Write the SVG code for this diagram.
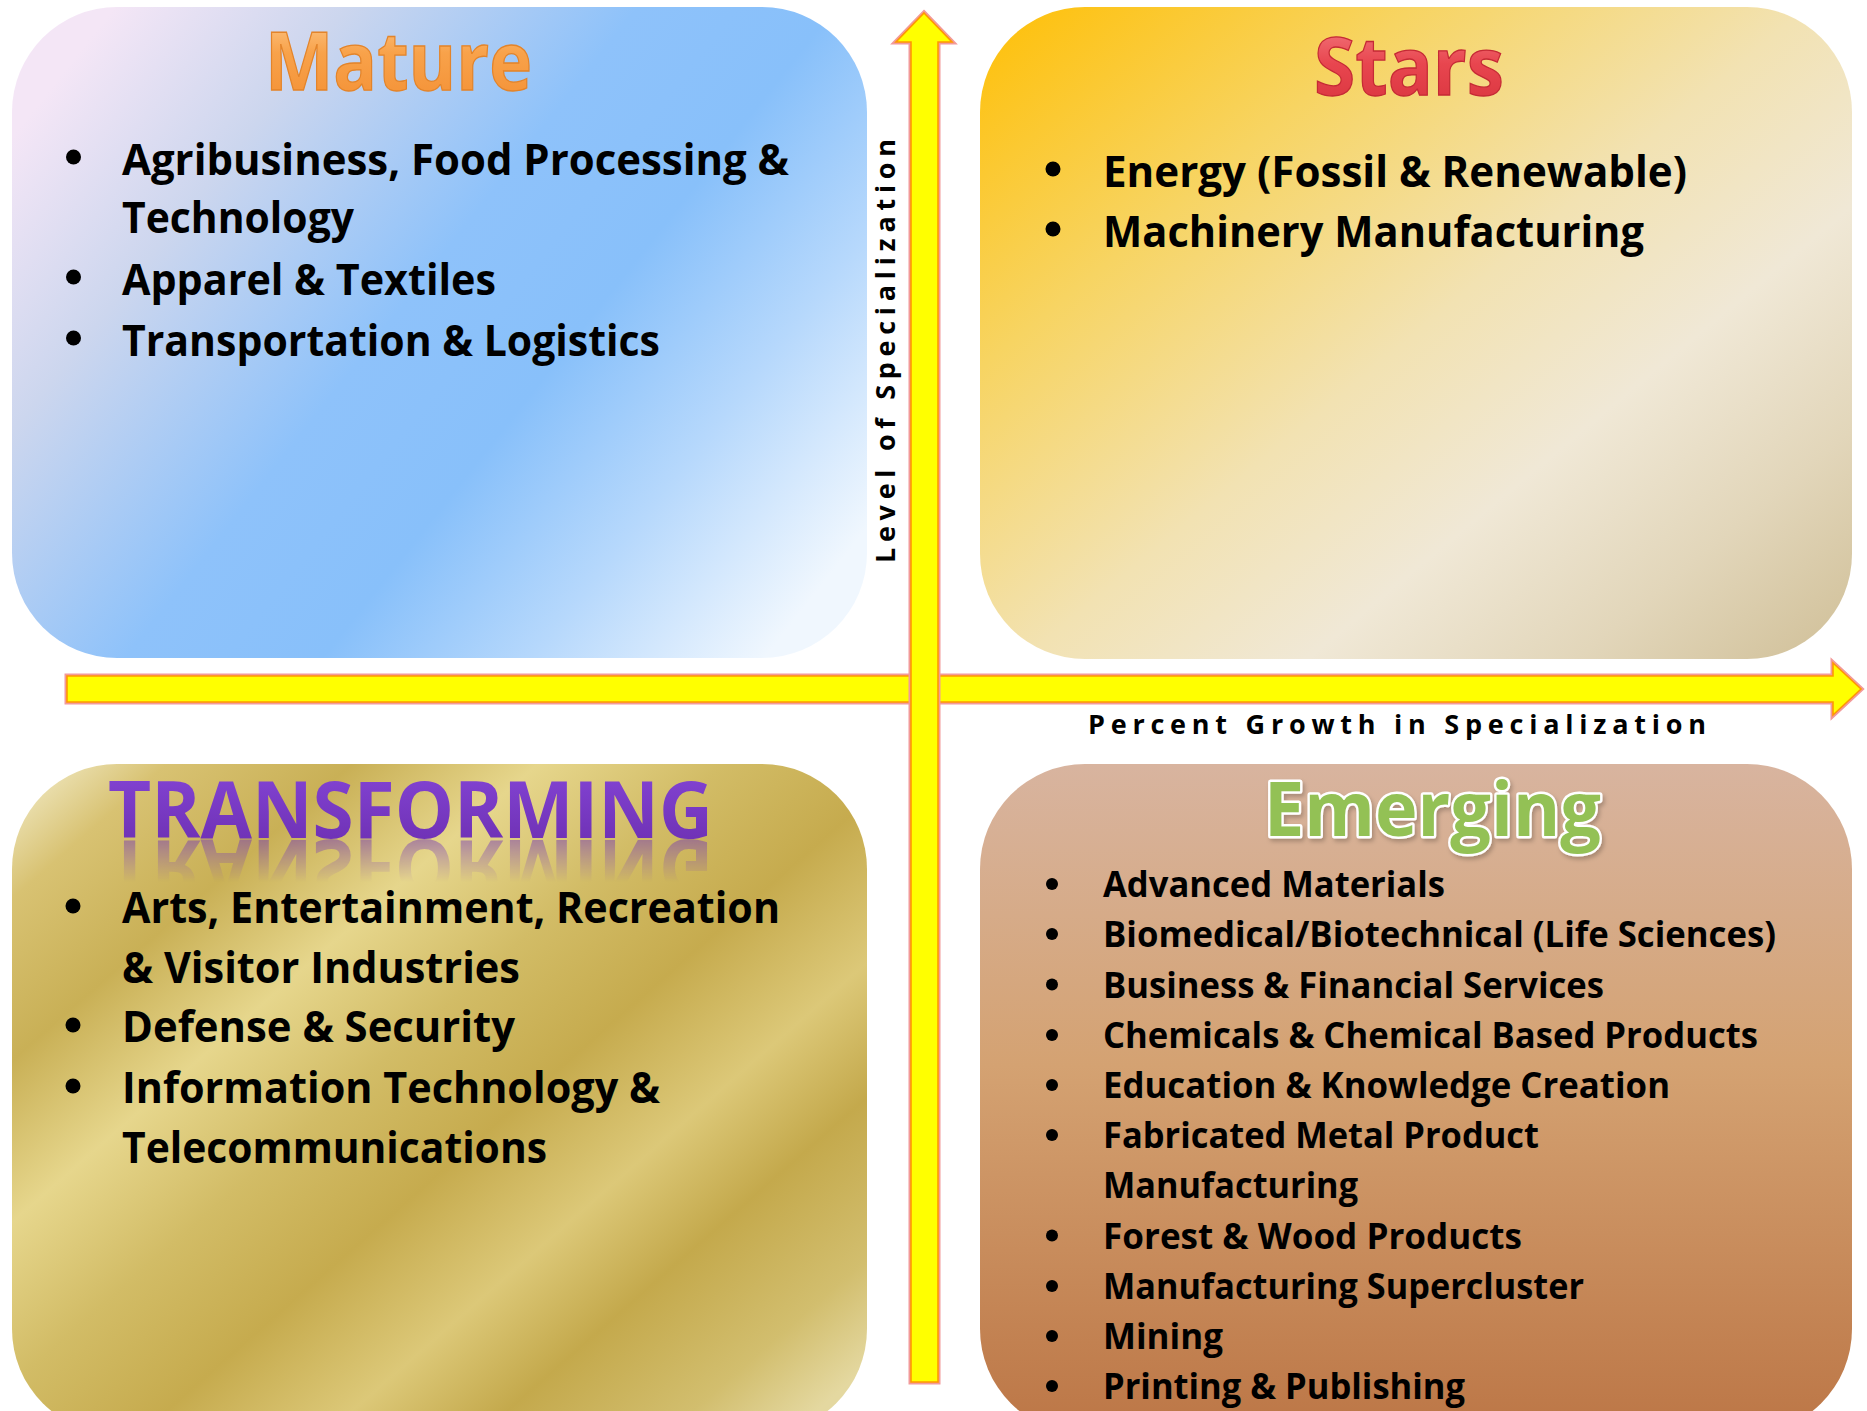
<svg xmlns="http://www.w3.org/2000/svg" xmlns:xlink="http://www.w3.org/1999/xlink" width="1867" height="1411" viewBox="0 0 1867 1411">
  <defs>
    <style>
      .txt { font-family: "Open Sans", "Liberation Sans", sans-serif; font-weight: 700; fill: #000; }
      .b { font-size: 43px; }
      .be { font-size: 35px; }
      .head { font-family: "Open Sans", "Liberation Sans", sans-serif; font-weight: 700; }
      .axis { font-family: "Open Sans", "Liberation Sans", sans-serif; font-weight: 700; font-size: 27px; fill: #000; }
      .arrow-outer { fill: none; stroke: #F29A9A; stroke-width: 5; stroke-linejoin: miter; }
      .arrow-inner { fill: #FFFF00; stroke: #FF9900; stroke-width: 1.6; stroke-linejoin: miter; }
    </style>
    <linearGradient id="gMature" x1="0" y1="0.2" x2="1" y2="0.8">
      <stop offset="0" stop-color="#F4E6F6"/>
      <stop offset="0.2" stop-color="#CCD6EE"/>
      <stop offset="0.45" stop-color="#8EC2FA"/>
      <stop offset="0.62" stop-color="#88C0FA"/>
      <stop offset="0.8" stop-color="#B6D8FC"/>
      <stop offset="1" stop-color="#F0F7FE"/>
    </linearGradient>
    <linearGradient id="gStars" x1="0" y1="0.05" x2="1" y2="0.95">
      <stop offset="0" stop-color="#FEC10E"/>
      <stop offset="0.25" stop-color="#F7D462"/>
      <stop offset="0.5" stop-color="#F2E2B2"/>
      <stop offset="0.68" stop-color="#F0E8D6"/>
      <stop offset="0.85" stop-color="#E2D6BA"/>
      <stop offset="1" stop-color="#D2C29C"/>
    </linearGradient>
    <linearGradient id="gTrans" x1="0" y1="0" x2="1" y2="0.9">
      <stop offset="0" stop-color="#F5F0D2"/>
      <stop offset="0.1" stop-color="#D8C272"/>
      <stop offset="0.22" stop-color="#C9B056"/>
      <stop offset="0.34" stop-color="#E6D68C"/>
      <stop offset="0.46" stop-color="#D2BC66"/>
      <stop offset="0.58" stop-color="#C6AB4E"/>
      <stop offset="0.7" stop-color="#DCC878"/>
      <stop offset="0.8" stop-color="#C4A94C"/>
      <stop offset="0.92" stop-color="#D2BE6E"/>
      <stop offset="1" stop-color="#E4D8A0"/>
    </linearGradient>
    <linearGradient id="gEmerg" x1="0" y1="0" x2="0" y2="1">
      <stop offset="0" stop-color="#D8B49F"/>
      <stop offset="0.45" stop-color="#D4A272"/>
      <stop offset="1" stop-color="#BC7646"/>
    </linearGradient>
    <linearGradient id="tMature" x1="0" y1="0" x2="0" y2="1">
      <stop offset="0" stop-color="#FFD29A"/>
      <stop offset="0.45" stop-color="#F8A24A"/>
      <stop offset="1" stop-color="#F38E32"/>
    </linearGradient>
    <linearGradient id="tStars" x1="0" y1="0" x2="0" y2="1">
      <stop offset="0" stop-color="#F7898D"/>
      <stop offset="0.5" stop-color="#E8464F"/>
      <stop offset="1" stop-color="#D6313B"/>
    </linearGradient>
    <linearGradient id="tTrans" x1="0" y1="0" x2="0" y2="1">
      <stop offset="0" stop-color="#8747DA"/>
      <stop offset="1" stop-color="#6A2DAD"/>
    </linearGradient>
    <linearGradient id="fadeGrad" x1="0" y1="0" x2="0" y2="1">
      <stop offset="0" stop-color="#fff" stop-opacity="0.5"/>
      <stop offset="1" stop-color="#fff" stop-opacity="0"/>
    </linearGradient>
    <mask id="fadeMask" maskUnits="userSpaceOnUse" x="90" y="838" width="640" height="46">
      <rect x="90" y="838" width="640" height="44" fill="url(#fadeGrad)"/>
    </mask>
    <filter id="shadow" x="-10%" y="-20%" width="120%" height="150%">
      <feDropShadow dx="2" dy="3" stdDeviation="2" flood-color="#000" flood-opacity="0.22"/>
    </filter>
  </defs>

  <rect x="0" y="0" width="1867" height="1411" fill="#FFFFFF"/>

  <!-- Mature -->
  <g id="node-mature">
    <rect x="12" y="7" width="855" height="651" rx="105" ry="105" fill="url(#gMature)"/>
    <text class="head" x="265" y="90" font-size="80" textLength="267" lengthAdjust="spacingAndGlyphs" fill="url(#tMature)" stroke="#E3842A" stroke-width="1.3">Mature</text>
    <circle cx="73.5" cy="157" r="7.5"/>
    <circle cx="73.5" cy="277" r="7.5"/>
    <circle cx="73.5" cy="338" r="7.5"/>
    <text class="txt b" x="122" y="175" textLength="667" lengthAdjust="spacingAndGlyphs">Agribusiness, Food Processing &amp;</text>
    <text class="txt b" x="122" y="233" textLength="232" lengthAdjust="spacingAndGlyphs">Technology</text>
    <text class="txt b" x="122" y="295" textLength="374" lengthAdjust="spacingAndGlyphs">Apparel &amp; Textiles</text>
    <text class="txt b" x="122" y="356" textLength="538" lengthAdjust="spacingAndGlyphs">Transportation &amp; Logistics</text>
  </g>

  <!-- Stars -->
  <g id="node-stars">
    <rect x="980" y="7" width="872" height="652" rx="105" ry="105" fill="url(#gStars)"/>
    <text class="head" x="1314" y="95" font-size="80" textLength="190" lengthAdjust="spacingAndGlyphs" fill="url(#tStars)" stroke="#C52A35" stroke-width="1.3">Stars</text>
    <circle cx="1053" cy="169" r="7.5"/>
    <circle cx="1053" cy="229" r="7.5"/>
    <text class="txt b" x="1103" y="187" textLength="584" lengthAdjust="spacingAndGlyphs">Energy (Fossil &amp; Renewable)</text>
    <text class="txt b" x="1103" y="247" textLength="541" lengthAdjust="spacingAndGlyphs">Machinery Manufacturing</text>
  </g>

  <!-- Transforming -->
  <g id="node-transforming">
    <rect x="12" y="764" width="855" height="670" rx="105" ry="105" fill="url(#gTrans)"/>
    <text id="transTitle" class="head" x="108" y="838" font-size="78" textLength="605" lengthAdjust="spacingAndGlyphs" fill="url(#tTrans)">TRANSFORMING</text>
    <g mask="url(#fadeMask)">
      <use xlink:href="#transTitle" href="#transTitle" transform="translate(0,1678) scale(1,-1)"/>
    </g>
    <circle cx="73" cy="906" r="7.5"/>
    <circle cx="73" cy="1025" r="7.5"/>
    <circle cx="73" cy="1086" r="7.5"/>
    <text class="txt b" x="122" y="923" textLength="658" lengthAdjust="spacingAndGlyphs">Arts, Entertainment, Recreation</text>
    <text class="txt b" x="122" y="983" textLength="398" lengthAdjust="spacingAndGlyphs">&amp; Visitor Industries</text>
    <text class="txt b" x="122" y="1042" textLength="393" lengthAdjust="spacingAndGlyphs">Defense &amp; Security</text>
    <text class="txt b" x="122" y="1103" textLength="538" lengthAdjust="spacingAndGlyphs">Information Technology &amp;</text>
    <text class="txt b" x="122" y="1163" textLength="425" lengthAdjust="spacingAndGlyphs">Telecommunications</text>
  </g>

  <!-- Emerging -->
  <g id="node-emerging">
    <rect x="980" y="764" width="872" height="670" rx="105" ry="105" fill="url(#gEmerg)"/>
    <text class="head" x="1264" y="836" font-size="76" textLength="337" lengthAdjust="spacingAndGlyphs" fill="#93C155" stroke="#FFFFFF" stroke-width="5" paint-order="stroke fill" stroke-linejoin="round" filter="url(#shadow)">Emerging</text>
    <circle cx="1052" cy="884" r="6"/>
    <circle cx="1052" cy="934" r="6"/>
    <circle cx="1052" cy="984.5" r="6"/>
    <circle cx="1052" cy="1035" r="6"/>
    <circle cx="1052" cy="1085" r="6"/>
    <circle cx="1052" cy="1135" r="6"/>
    <circle cx="1052" cy="1235.5" r="6"/>
    <circle cx="1052" cy="1286" r="6"/>
    <circle cx="1052" cy="1336" r="6"/>
    <circle cx="1052" cy="1386" r="6"/>
    <text class="txt be" x="1103" y="897" textLength="342" lengthAdjust="spacingAndGlyphs">Advanced Materials</text>
    <text class="txt be" x="1103" y="947" textLength="673" lengthAdjust="spacingAndGlyphs">Biomedical/Biotechnical (Life Sciences)</text>
    <text class="txt be" x="1103" y="997.5" textLength="501" lengthAdjust="spacingAndGlyphs">Business &amp; Financial Services</text>
    <text class="txt be" x="1103" y="1048" textLength="655" lengthAdjust="spacingAndGlyphs">Chemicals &amp; Chemical Based Products</text>
    <text class="txt be" x="1103" y="1098" textLength="567" lengthAdjust="spacingAndGlyphs">Education &amp; Knowledge Creation</text>
    <text class="txt be" x="1103" y="1148" textLength="436" lengthAdjust="spacingAndGlyphs">Fabricated Metal Product</text>
    <text class="txt be" x="1103" y="1198" textLength="255" lengthAdjust="spacingAndGlyphs">Manufacturing</text>
    <text class="txt be" x="1103" y="1248.5" textLength="419" lengthAdjust="spacingAndGlyphs">Forest &amp; Wood Products</text>
    <text class="txt be" x="1103" y="1299" textLength="481" lengthAdjust="spacingAndGlyphs">Manufacturing Supercluster</text>
    <text class="txt be" x="1103" y="1349" textLength="120" lengthAdjust="spacingAndGlyphs">Mining</text>
    <text class="txt be" x="1103" y="1399" textLength="362" lengthAdjust="spacingAndGlyphs">Printing &amp; Publishing</text>
  </g>

  <!-- Connectors: axes -->
  <g id="connectors">
    <path class="arrow-outer" d="M67,676 L1833,676 L1833,663 L1861,689 L1833,715 L1833,702 L67,702 Z"/>
    <path class="arrow-inner" d="M67,676 L1833,676 L1833,663 L1861,689 L1833,715 L1833,702 L67,702 Z"/>
    <path class="arrow-outer" d="M924,13 L952,42 L938,42 L938,1382 L911,1382 L911,42 L896,42 Z"/>
    <path class="arrow-inner" d="M924,13 L952,42 L938,42 L938,1382 L911,1382 L911,42 L896,42 Z"/>
    <text class="axis" x="1088" y="734" textLength="618" lengthAdjust="spacing">Percent Growth in Specialization</text>
    <text class="axis" transform="translate(895,563) rotate(-90)" x="0" y="0" font-size="26" textLength="424" lengthAdjust="spacing">Level of Specialization</text>
  </g>
</svg>
